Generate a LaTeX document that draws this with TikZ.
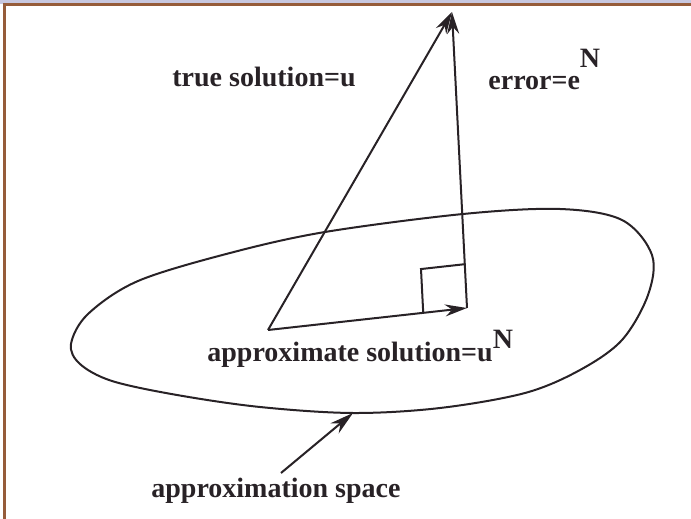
\documentclass[tikz,border=0pt]{standalone}
\usepackage{fontspec}
\setmainfont{Liberation Serif}
\usetikzlibrary{arrows.meta,calc}
\definecolor{framebrown}{RGB}{150,92,58}
\definecolor{bandblue}{RGB}{200,200,224}
\definecolor{inkgray}{RGB}{40,34,38}
\tikzset{
  lbl/.style={anchor=base west, inner sep=0pt, text=inkgray,
    font=\fontsize{14pt}{16pt}\selectfont\bfseries},
  vec/.style={line width=1pt, draw=inkgray, -{Stealth[length=11pt, width=6pt]}},
  edge/.style={line width=1pt, draw=inkgray}
}
\begin{document}
\begin{tikzpicture}[x=0.5pt, y=-0.5pt, >=Stealth]
  \useasboundingbox (0,0) rectangle (691,519);
  % frame
  \fill[bandblue] (0,0) rectangle (691,4);
  \draw[framebrown, line width=1.5pt] (4.5,519) -- (4.5,5) -- (691,5);

  % approximation space
  \draw[edge] plot[smooth cycle, tension=0.55] coordinates {
    (71,344) (88,314) (138,281) (230,253) (325,232) (463,214) (560,209)
    (622,220) (652,255) (648,295) (622,340) (580,370) (525,393) (440,408)
    (353,413) (260,407) (177,395) (112,381) (80,364)};

  % triangle
  \coordinate (base) at (268,330);
  \coordinate (foot) at (467,308);
  \coordinate (apex) at (452,12);
  \draw[vec] (base) -- (apex);
  \draw[vec] (foot) -- (apex);
  \draw[vec] (base) -- (foot);

  % right angle
  \coordinate (sqa) at ($(foot)!0.22!(base)$);
  \coordinate (sqb) at ($(foot)!0.148!(apex)$);
  \draw[edge] (sqa) -- ($(sqa)+(sqb)-(foot)$) -- (sqb);

  % labels
  \node[lbl] (truesol) at (172,87) {true solution=u};
  \node[lbl] (err) at (488,90) {error=e\raisebox{11pt}{N}};
  \node[lbl] (approxsol) at (207,361) {approximate solution=u\raisebox{6.5pt}{N}};
  \node[lbl] (space) at (151,497) {approximation space};

  \coordinate (spacept) at (353,413);
  \draw[vec, -{Stealth[length=12pt, width=6.5pt]}] (281,473) -- (spacept);
\end{tikzpicture}
\end{document}
